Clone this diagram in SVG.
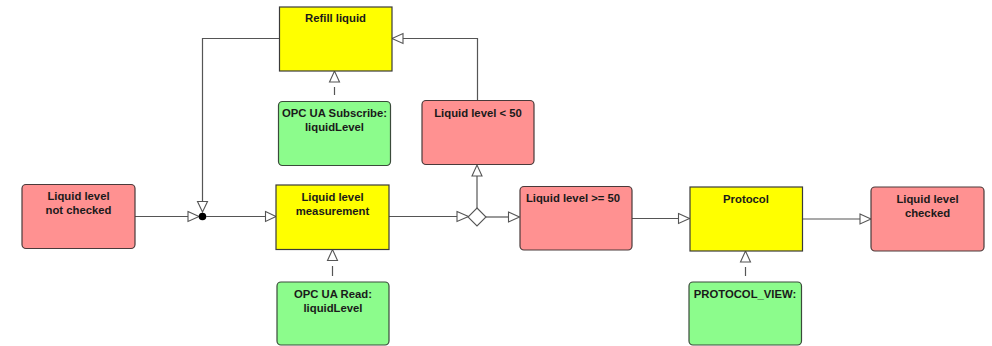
<svg xmlns="http://www.w3.org/2000/svg" width="992" height="346" viewBox="0 0 992 346">
  <defs>
    <style>
      .event rect { fill: #ff9191; stroke: #4a3a3a; stroke-width: 1.2; }
      .func rect { fill: #ffff00; stroke: #3a3a3a; stroke-width: 1.2; }
      .info rect { fill: #8cfc8c; stroke: #3a4a3a; stroke-width: 1.2; }
      text { font-family: "Liberation Sans", Arial, sans-serif; font-weight: bold; font-size: 11.3px; fill: #1a1a1a; text-anchor: middle; }
      .flow { fill: none; stroke: #555; stroke-width: 1.2; }
      .head { fill: #fff; stroke: #555; stroke-width: 1.1; stroke-linejoin: miter; }
    </style>
  </defs>

  <rect width="992" height="346" fill="#ffffff"/>

  <!-- connectors -->
  <g id="connectors">
    <!-- start event to join dot -->
    <line class="flow" x1="135" y1="216.5" x2="188" y2="216.5"/>
    <polygon class="head" points="188,211.5 199,216.5 188,221.5"/>
    <!-- refill liquid loops back to join dot -->
    <polyline class="flow" points="279,38.5 202.5,38.5 202.5,201"/>
    <polygon class="head" points="197.5,201.5 207.5,201.5 202.5,212"/>
    <circle cx="202.5" cy="216.5" r="3.8" fill="#000"/>
    <!-- join dot to measurement -->
    <line class="flow" x1="206" y1="216.5" x2="265.5" y2="216.5"/>
    <polygon class="head" points="265.5,211.5 276,216.5 265.5,221.5"/>
    <!-- measurement to XOR -->
    <line class="flow" x1="389" y1="216.5" x2="457" y2="216.5"/>
    <polygon class="head" points="457,211.5 468.5,216.5 457,221.5"/>
    <polygon points="477,208 486,217 477,226 468,217" fill="#fff" stroke="#555" stroke-width="1.1"/>
    <!-- XOR up to "level < 50" -->
    <line class="flow" x1="477" y1="208" x2="477" y2="176"/>
    <polygon class="head" points="472,176 482,176 477,165"/>
    <!-- "level < 50" to refill -->
    <polyline class="flow" points="477.5,100 477.5,38.5 403,38.5"/>
    <polygon class="head" points="403,33.5 403,43.5 392,38.5"/>
    <!-- XOR to "level >= 50" -->
    <line class="flow" x1="486" y1="217" x2="508.5" y2="217"/>
    <polygon class="head" points="508.5,212 519.5,217 508.5,222"/>
    <!-- "level >= 50" to protocol -->
    <line class="flow" x1="632" y1="218.5" x2="678.5" y2="218.5"/>
    <polygon class="head" points="678.5,213.5 689.5,218.5 678.5,223.5"/>
    <!-- protocol to end event -->
    <line class="flow" x1="802" y1="219" x2="860" y2="219"/>
    <polygon class="head" points="860,214 871,219 860,224"/>
    <!-- information objects to functions -->
    <line class="flow" x1="334.5" y1="87" x2="334.5" y2="95"/>
    <polygon class="head" points="329.5,82 339.5,82 334.5,71"/>
    <line class="flow" x1="332.5" y1="266" x2="332.5" y2="276"/>
    <polygon class="head" points="327.5,260.5 337.5,260.5 332.5,249.5"/>
    <line class="flow" x1="745.5" y1="267" x2="745.5" y2="276"/>
    <polygon class="head" points="740.5,262 750.5,262 745.5,251"/>
  </g>

  <!-- events -->
  <g id="ev-not-checked" class="event">
    <rect x="22" y="184.5" width="113" height="64" rx="4"/>
    <text x="78.5" y="200">Liquid level</text>
    <text x="78.5" y="214">not checked</text>
  </g>
  <g id="ev-below-50" class="event">
    <rect x="422" y="100.5" width="112" height="64" rx="4"/>
    <text x="478" y="116.5">Liquid level &lt; 50</text>
  </g>
  <g id="ev-above-50" class="event">
    <rect x="520" y="186.5" width="112" height="63.5" rx="4"/>
    <text x="573" y="202">Liquid level &gt;= 50</text>
  </g>
  <g id="ev-checked" class="event">
    <rect x="871" y="187" width="113" height="64" rx="4"/>
    <text x="927.5" y="202.5">Liquid level</text>
    <text x="927.5" y="216.5">checked</text>
  </g>

  <!-- functions -->
  <g id="fn-refill" class="func">
    <rect x="279.5" y="7" width="112.5" height="64"/>
    <text x="335.5" y="21.5">Refill liquid</text>
  </g>
  <g id="fn-measure" class="func">
    <rect x="276" y="185" width="113" height="64.5"/>
    <text x="332.5" y="200.5">Liquid level</text>
    <text x="332.5" y="214.5">measurement</text>
  </g>
  <g id="fn-protocol" class="func">
    <rect x="690" y="187" width="112.5" height="64"/>
    <text x="746" y="202.5">Protocol</text>
  </g>

  <!-- information objects -->
  <g id="io-subscribe" class="info">
    <rect x="278.5" y="101.5" width="112" height="64" rx="4"/>
    <text x="334.5" y="117">OPC UA Subscribe:</text>
    <text x="334.5" y="131">liquidLevel</text>
  </g>
  <g id="io-read" class="info">
    <rect x="277" y="282" width="112" height="63" rx="4"/>
    <text x="333" y="297.5">OPC UA Read:</text>
    <text x="333" y="311.5">liquidLevel</text>
  </g>
  <g id="io-protocol-view" class="info">
    <rect x="689" y="282" width="112.5" height="63" rx="4"/>
    <text x="745" y="297.5">PROTOCOL_VIEW:</text>
  </g>
</svg>
